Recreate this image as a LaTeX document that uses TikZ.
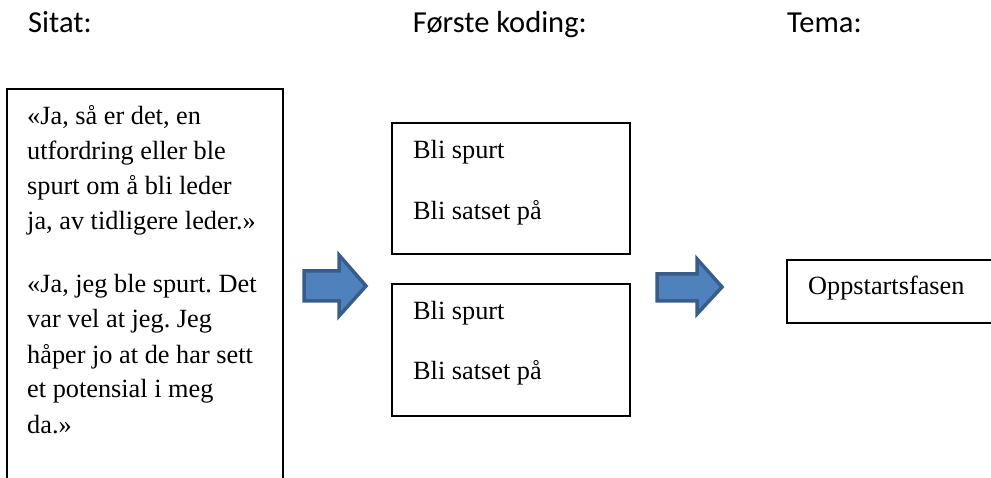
\documentclass[tikz,border=0pt]{standalone}
\usepackage{fontspec}
\setmainfont{Liberation Serif}
\newfontfamily\titlefont{Carlito}
\definecolor{arrowfill}{HTML}{4F81BD}
\definecolor{arrowline}{HTML}{385D8A}
\frenchspacing
\begin{document}
\begin{tikzpicture}[x=1pt,y=-1pt,
  boxline/.style={draw=black, line width=1.6pt},
  quote/.style={anchor=base west, inner sep=0pt, font=\fontsize{26.3}{35}\selectfont},
  titletext/.style={inner sep=0pt, font=\titlefont\fontsize{30.5}{36}\selectfont},
  blockarrow/.style={fill=arrowfill, draw=arrowline, line width=3.5pt, line join=miter}]
\useasboundingbox (0,0) rectangle (991,478);
\fill[white] (0,0) rectangle (991,478);
\clip (0,0) rectangle (991,478);

% titles
\node[titletext, anchor=base west] (t1) at (28,33) {Sitat:};
\node[titletext, anchor=base east] (t2) at (587,33) {Første koding:};
\node[titletext, anchor=base west] (t3) at (787,33) {Tema:};

% left box
\draw[boxline] (7,520) -- (7,89) -- (283,89) -- (283,520);
\node[quote] (q1) at (27,125) {«Ja, så er det, en};
\node[quote] (q2) at (27,160) {utfordring eller ble};
\node[quote] (q3) at (27,195) {spurt om å bli leder};
\node[quote] (q4) at (27,230) {ja, av tidligere leder.»};
\node[quote] (q5) at (27,293) {«Ja, jeg ble spurt. Det};
\node[quote] (q6) at (27,328) {var vel at jeg. Jeg};
\node[quote] (q7) at (27,363) {håper jo at de har sett};
\node[quote] (q8) at (27,398) {et potensial i meg};
\node[quote] (q9) at (27,433) {da.»};

% middle boxes
\draw[boxline] (392,123) rectangle (630,254);
\node[quote] (a1) at (413,159) {Bli spurt};
\node[quote] (a2) at (413,220) {Bli satset på};
\draw[boxline] (392,284) rectangle (630,416);
\node[quote] (b1) at (413,320) {Bli spurt};
\node[quote] (b2) at (413,380) {Bli satset på};

% theme box
\draw[boxline] (1010,260) -- (787,260) -- (787,323) -- (1010,323);
\node[quote] (c1) at (808,295) {Oppstartsfasen};

% block arrows
\draw[blockarrow] (304,271) -- (339,271) -- (339,255) -- (366,286) -- (339,316) -- (339,301) -- (304,301) -- cycle;
\draw[blockarrow] (657,274) -- (697,274) -- (697,259) -- (722,287) -- (697,314) -- (697,301) -- (657,301) -- cycle;
\end{tikzpicture}
\end{document}
